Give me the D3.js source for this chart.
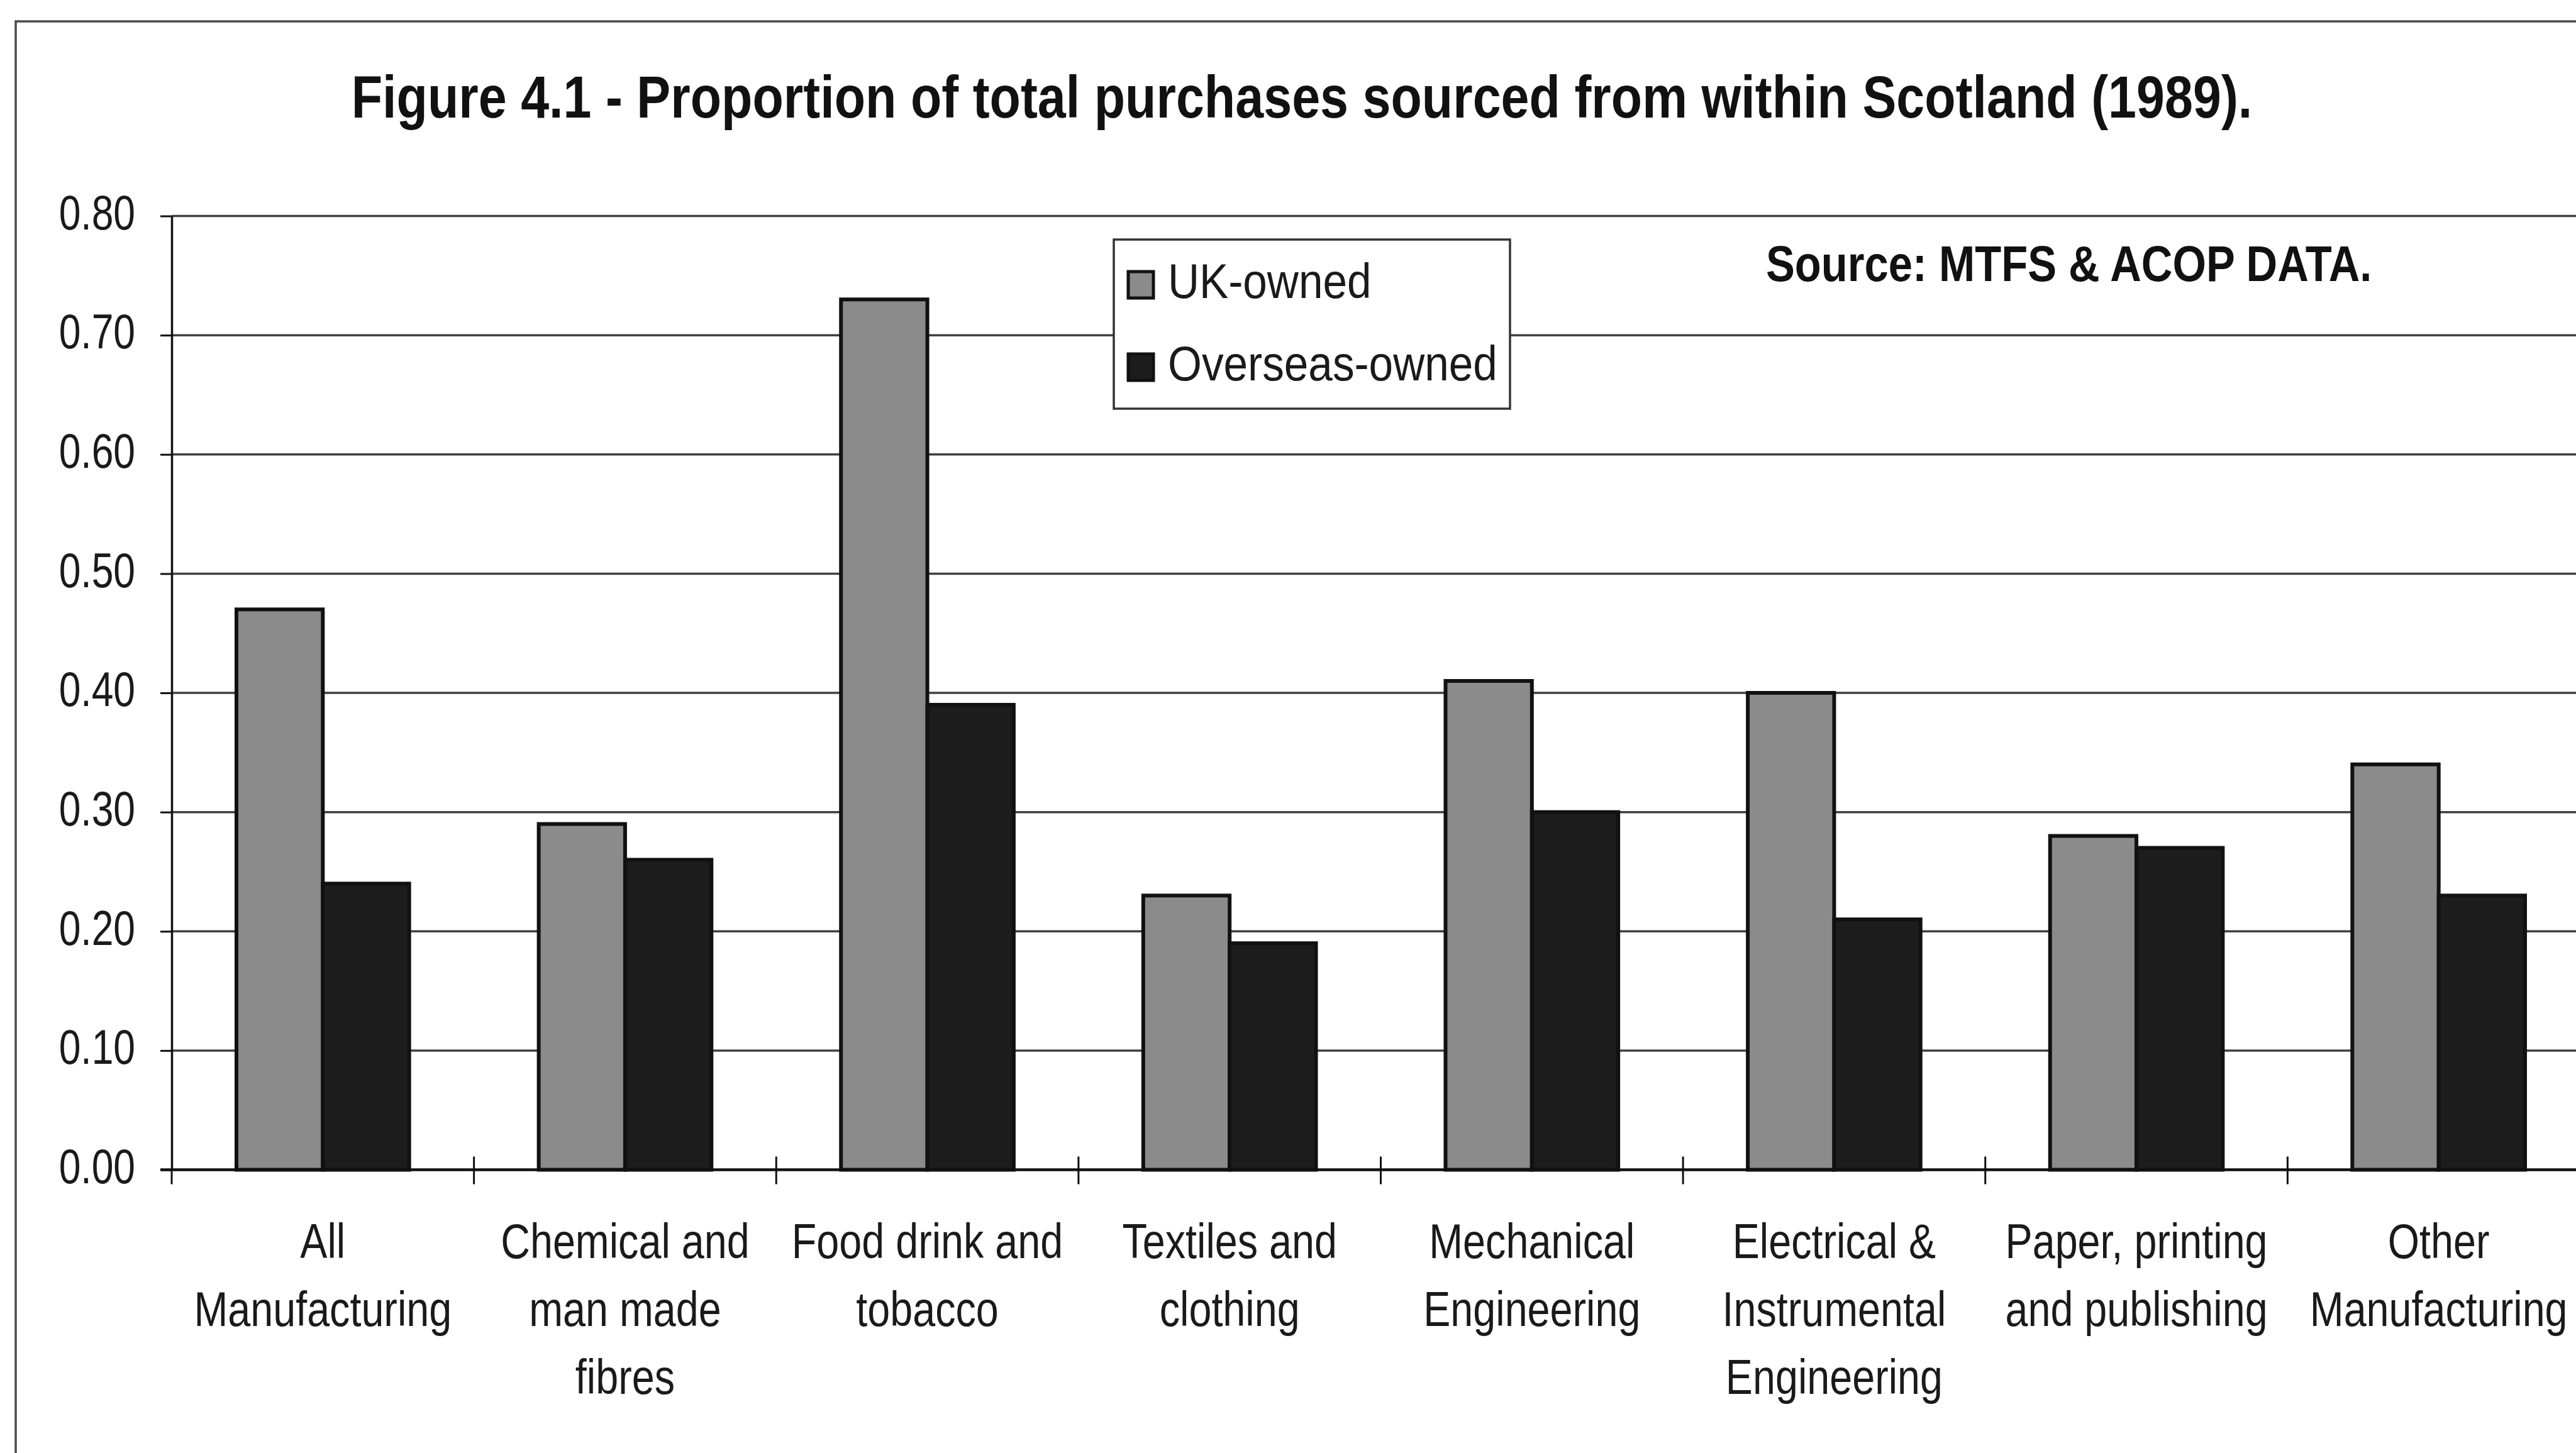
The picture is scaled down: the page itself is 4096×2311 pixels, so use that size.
<!DOCTYPE html>
<html>
<head>
<meta charset="utf-8">
<script src="https://cdn.jsdelivr.net/npm/d3@7"></script>
<style>
  html, body { margin: 0; padding: 0; background: #ffffff; }
  svg { display: block; }
</style>
</head>
<body>
<svg id="chart" width="4096" height="2311"></svg>
<script>
// ---- data ----
const categories = [
  ["All", "Manufacturing"],
  ["Chemical and", "man made", "fibres"],
  ["Food drink and", "tobacco"],
  ["Textiles and", "clothing"],
  ["Mechanical", "Engineering"],
  ["Electrical &", "Instrumental", "Engineering"],
  ["Paper, printing", "and publishing"],
  ["Other", "Manufacturing"]
];
const seriesNames = ["UK-owned", "Overseas-owned"];
const ukOwned       = [0.47, 0.29, 0.73, 0.23, 0.41, 0.40, 0.28, 0.34];
const overseasOwned = [0.24, 0.26, 0.39, 0.19, 0.30, 0.21, 0.27, 0.23];
const yTicks = [0.00, 0.10, 0.20, 0.30, 0.40, 0.50, 0.60, 0.70, 0.80];
const titleText = "Figure 4.1 - Proportion of total purchases sourced from within Scotland (1989).";
const sourceText = "Source: MTFS & ACOP DATA.";

// ---- layout ----
const W = 4096, H = 2311;
const plot = { left: 273, right: 4118, top: 343.5, bottom: 1860.5 };
const FONT = "'Liberation Sans', Arial, sans-serif";
const colors = { "UK-owned": "#8b8b8b", "Overseas-owned": "#1d1d1d" };

const svg = d3.select("#chart");
svg.append("rect").attr("width", W).attr("height", H).attr("fill", "#ffffff");

// chart frame (runs off the right and bottom edges)
svg.append("rect")
  .attr("x", 25).attr("y", 34)
  .attr("width", 4300).attr("height", 2500)
  .attr("fill", "none").attr("stroke", "#4a4a4a").attr("stroke-width", 3.5);

const x0 = d3.scaleBand()
  .domain(d3.range(categories.length))
  .range([plot.left, plot.right])
  .padding(0);
const B = x0.bandwidth();
// 150% gap width: each bar is band / 3.5
const x1 = d3.scaleBand()
  .domain(seriesNames)
  .range([0.75 * B / 3.5, B - 0.75 * B / 3.5])
  .padding(0);
const y = d3.scaleLinear().domain([0, 0.8]).range([plot.bottom, plot.top]);

// gridlines
svg.append("g").selectAll("line")
  .data(yTicks.filter(d => d > 0))
  .join("line")
  .attr("x1", plot.left).attr("x2", plot.right)
  .attr("y1", d => y(d)).attr("y2", d => y(d))
  .attr("stroke", "#404040").attr("stroke-width", 3.5);

// bars
const rows = categories.map((c, i) => ({ i, values: [
  { key: "UK-owned", v: ukOwned[i] },
  { key: "Overseas-owned", v: overseasOwned[i] }
]}));
svg.append("g").selectAll("g")
  .data(rows)
  .join("g")
  .attr("transform", d => `translate(${x0(d.i)},0)`)
  .selectAll("rect")
  .data(d => d.values)
  .join("rect")
  .attr("x", d => x1(d.key))
  .attr("width", x1.bandwidth())
  .attr("y", d => y(d.v))
  .attr("height", d => y(0) - y(d.v))
  .attr("fill", d => colors[d.key])
  .attr("stroke", "#111111").attr("stroke-width", 6);

// y axis
const yAxis = d3.axisLeft(y)
  .tickValues(yTicks)
  .tickFormat(d3.format(".2f"))
  .tickSize(18).tickSizeOuter(0).tickPadding(40);
const gy = svg.append("g").attr("transform", `translate(${plot.left},0)`).call(yAxis);
gy.select(".domain").attr("stroke", "#111").attr("stroke-width", 3.5);
gy.selectAll(".tick line").attr("stroke", "#111").attr("stroke-width", 3);
gy.selectAll(".tick text")
  .attr("font-family", FONT).attr("font-size", 77).attr("fill", "#1a1a1a")
  .attr("dy", "0.27em").attr("data-k", 0.81);

// x axis line with cross ticks at category boundaries
const gx = svg.append("g");
gx.append("line")
  .attr("x1", plot.left - 18).attr("x2", plot.right)
  .attr("y1", y(0)).attr("y2", y(0))
  .attr("stroke", "#111").attr("stroke-width", 4.5);
gx.selectAll("line.tk")
  .data(d3.range(categories.length + 1))
  .join("line").attr("class", "tk")
  .attr("x1", i => plot.left + i * x0.step())
  .attr("x2", i => plot.left + i * x0.step())
  .attr("y1", i => i === 0 ? y(0) : y(0) - 21)
  .attr("y2", y(0) + 23)
  .attr("stroke", "#111").attr("stroke-width", 3);

// category labels
const catG = svg.append("g")
  .attr("font-family", FONT).attr("font-size", 77).attr("fill", "#1a1a1a")
  .attr("text-anchor", "middle");
categories.forEach((lines, i) => {
  lines.forEach((t, j) => {
    catG.append("text")
      .attr("x", x0(i) + B / 2)
      .attr("y", 2001 + j * 108)
      .attr("data-k", 0.84)
      .text(t);
  });
});

// title
svg.append("text")
  .attr("x", 2070).attr("y", 187)
  .attr("text-anchor", "middle")
  .attr("font-family", FONT).attr("font-weight", "bold").attr("font-size", 94)
  .attr("fill", "#111").attr("data-k", 0.86)
  .text(titleText);

// source note
svg.append("text")
  .attr("x", 2808).attr("y", 447)
  .attr("font-family", FONT).attr("font-weight", "bold").attr("font-size", 79)
  .attr("fill", "#111").attr("data-k", 0.87)
  .text(sourceText);

// legend
const lg = svg.append("g");
lg.append("rect")
  .attr("x", 1771).attr("y", 381).attr("width", 630).attr("height", 269)
  .attr("fill", "#ffffff").attr("stroke", "#333").attr("stroke-width", 3.5);
seriesNames.forEach((name, k) => {
  lg.append("rect")
    .attr("x", 1794).attr("y", 432 + k * 131).attr("width", 40).attr("height", 42)
    .attr("fill", colors[name]).attr("stroke", "#111").attr("stroke-width", 5);
  lg.append("text")
    .attr("x", 1857).attr("y", 474 + k * 131)
    .attr("font-family", FONT).attr("font-size", 77).attr("fill", "#1a1a1a")
    .attr("data-k", 0.9)
    .text(name);
});

// the chart uses a condensed face: squeeze every text horizontally about its anchor
svg.selectAll("text").each(function () {
  const k = +this.getAttribute("data-k") || 0.86;
  const ax = +this.getAttribute("x") || 0;
  const ay = +this.getAttribute("y") || 0;
  d3.select(this).attr("transform",
    `translate(${ax},${ay}) scale(${k},1) translate(${-ax},${-ay})`);
});
</script>
</body>
</html>
